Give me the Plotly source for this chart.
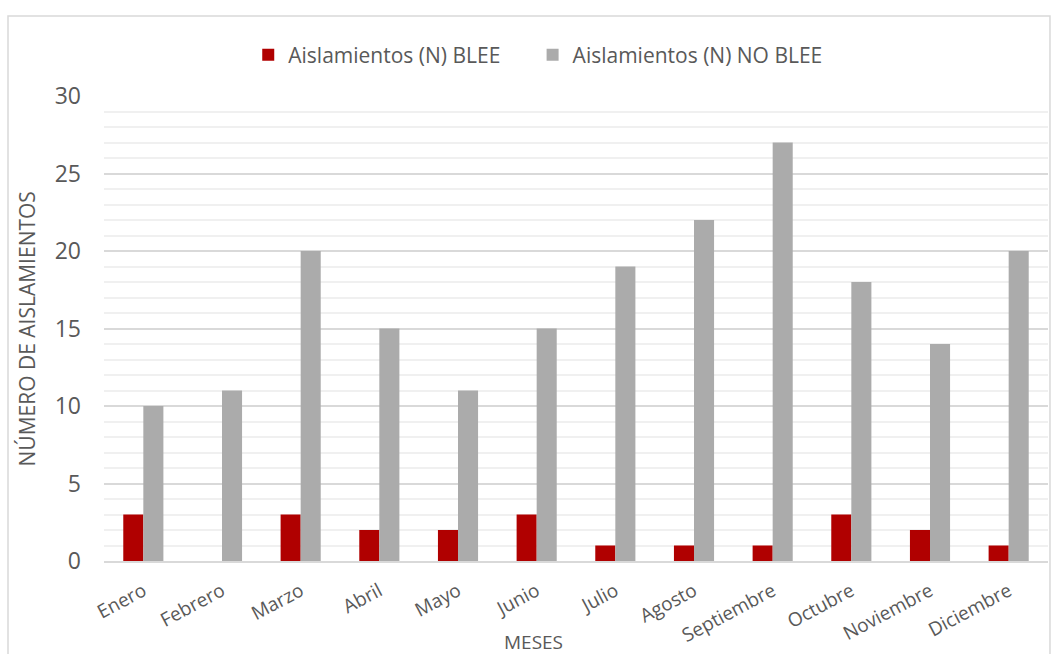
import plotly.graph_objects as go

meses = ["Enero", "Febrero", "Marzo", "Abril", "Mayo", "Junio", "Julio",
         "Agosto", "Septiembre", "Octubre", "Noviembre", "Diciembre"]
blee = [3, 0, 3, 2, 2, 3, 1, 1, 1, 3, 2, 1]
no_blee = [10, 11, 20, 15, 11, 15, 19, 22, 27, 18, 14, 20]

FONT = "Open Sans"
TXT = "#595959"
PAD = "\u00a0" * 5  # extra spacing between legend entries

fig = go.Figure()
fig.add_trace(go.Bar(x=meses, y=blee, name="Aislamientos (N) BLEE" + PAD,
                     marker=dict(color="#b00000", line=dict(width=0))))
fig.add_trace(go.Bar(x=meses, y=no_blee, name="Aislamientos (N) NO BLEE",
                     marker=dict(color="#ababab", line=dict(width=0))))

fig.update_layout(
    width=1052, height=654,
    margin=dict(l=104, r=4, t=96, b=93),
    paper_bgcolor="white", plot_bgcolor="white",
    barmode="group", bargap=0.49, bargroupgap=0,
    font=dict(family=FONT, color=TXT, size=20),
    showlegend=True,
    legend=dict(orientation="h", x=0.46, xanchor="center", y=1.088, yanchor="middle",
                font=dict(size=21, color=TXT), itemwidth=30,
                traceorder="normal"),
    xaxis=dict(tickangle=-28, tickfont=dict(size=19, color=TXT),
               showline=True, linecolor="#d9d9d9", linewidth=1.5,
               ticklabelstandoff=10),
    yaxis=dict(range=[0, 30], dtick=5, tickfont=dict(size=23, color=TXT),
               showgrid=True, gridcolor="#d9d9d9", gridwidth=1.5,
               zeroline=False, ticklabelstandoff=22,
               minor=dict(dtick=1, showgrid=True, gridcolor="#f0f0f0", gridwidth=1.5)),
    annotations=[
        dict(text="MESES", xref="paper", yref="paper", x=0.4555, y=-0.174,
             xanchor="center", yanchor="middle", showarrow=False,
             font=dict(size=19, color=TXT)),
        dict(text="NÚMERO DE AISLAMIENTOS", xref="paper", yref="paper",
             x=-0.0816, y=0.5, textangle=-90, xanchor="center", yanchor="middle",
             showarrow=False, font=dict(size=21, color=TXT)),
    ],
    shapes=[dict(type="rect", xref="paper", yref="paper",
                 x0=-0.1017, x1=1.0021, y0=-0.25, y1=1.172,
                 line=dict(color="#d9d9d9", width=1.5), layer="below")],
)

fig.write_html("out.html")
